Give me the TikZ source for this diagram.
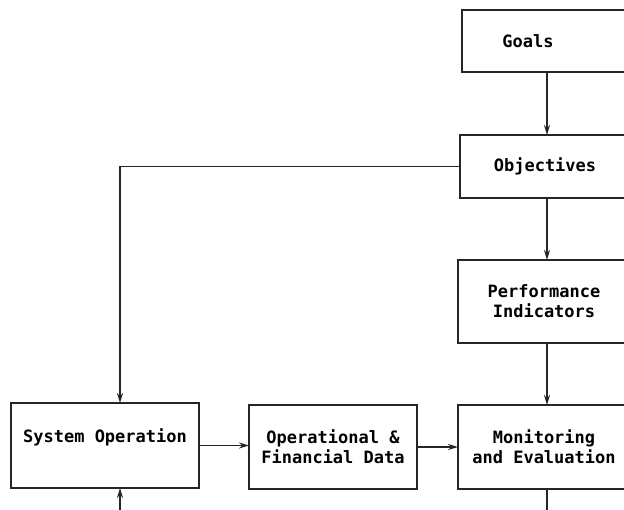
\documentclass[tikz,border=0pt]{standalone}
\usepackage{fontspec}
\newfontfamily\diagfont{DejaVu Sans Mono}
\usetikzlibrary{arrows.meta,calc}
\begin{document}
\begin{tikzpicture}[x=1pt,y=-1pt,
  box/.style={draw=black!85, line width=2pt, rectangle, anchor=north west,
    inner sep=0pt, outer sep=0pt, align=center,
    font=\diagfont\bfseries\fontsize{17}{20}\selectfont},
  conn/.style={draw=black!85, line width=1.8pt},
  arr/.style={conn, -{Stealth[length=10pt,width=6pt]}}]
\clip (0,0) rectangle (624,510);
\fill[white] (0,0) rectangle (624,510);
\node[box, minimum width=168pt, minimum height=62pt] (goals) at (462,10) {Goals\hspace*{36pt}};
\node[box, minimum width=170pt, minimum height=63pt] (obj) at (460,135) {Objectives};
\node[box, minimum width=172pt, minimum height=83pt] (perf) at (458,260) {Performance\\Indicators};
\node[box, minimum width=172pt, minimum height=84pt] (mon) at (458,405) {Monitoring\\and Evaluation};
\node[box, minimum width=188pt, minimum height=85pt] (sys) at (11,403) {System Operation\\\mbox{}};
\node[box, minimum width=168pt, minimum height=84pt] (ops) at (249,405) {Operational \&\\Financial Data};
\coordinate (col) at (547,0);
\coordinate (lc) at (120,0);
\coordinate (fbR) at (547,540);
\coordinate (fbL) at (120,540);
\draw[arr] (col |- goals.south) -- (col |- obj.north);
\draw[arr] (col |- obj.south) -- (col |- perf.north);
\draw[arr] (col |- perf.south) -- (col |- mon.north);
\draw[arr] (obj.west) -| (lc |- sys.north);
\draw[arr] (sys.east) -- (sys.east -| ops.west);
\draw[arr] (ops.east) -- (ops.east -| mon.west);
\draw[conn] (col |- mon.south) -- (fbR) -- (fbL);
\draw[arr] (fbL) -- (lc |- sys.south);
\end{tikzpicture}
\end{document}
